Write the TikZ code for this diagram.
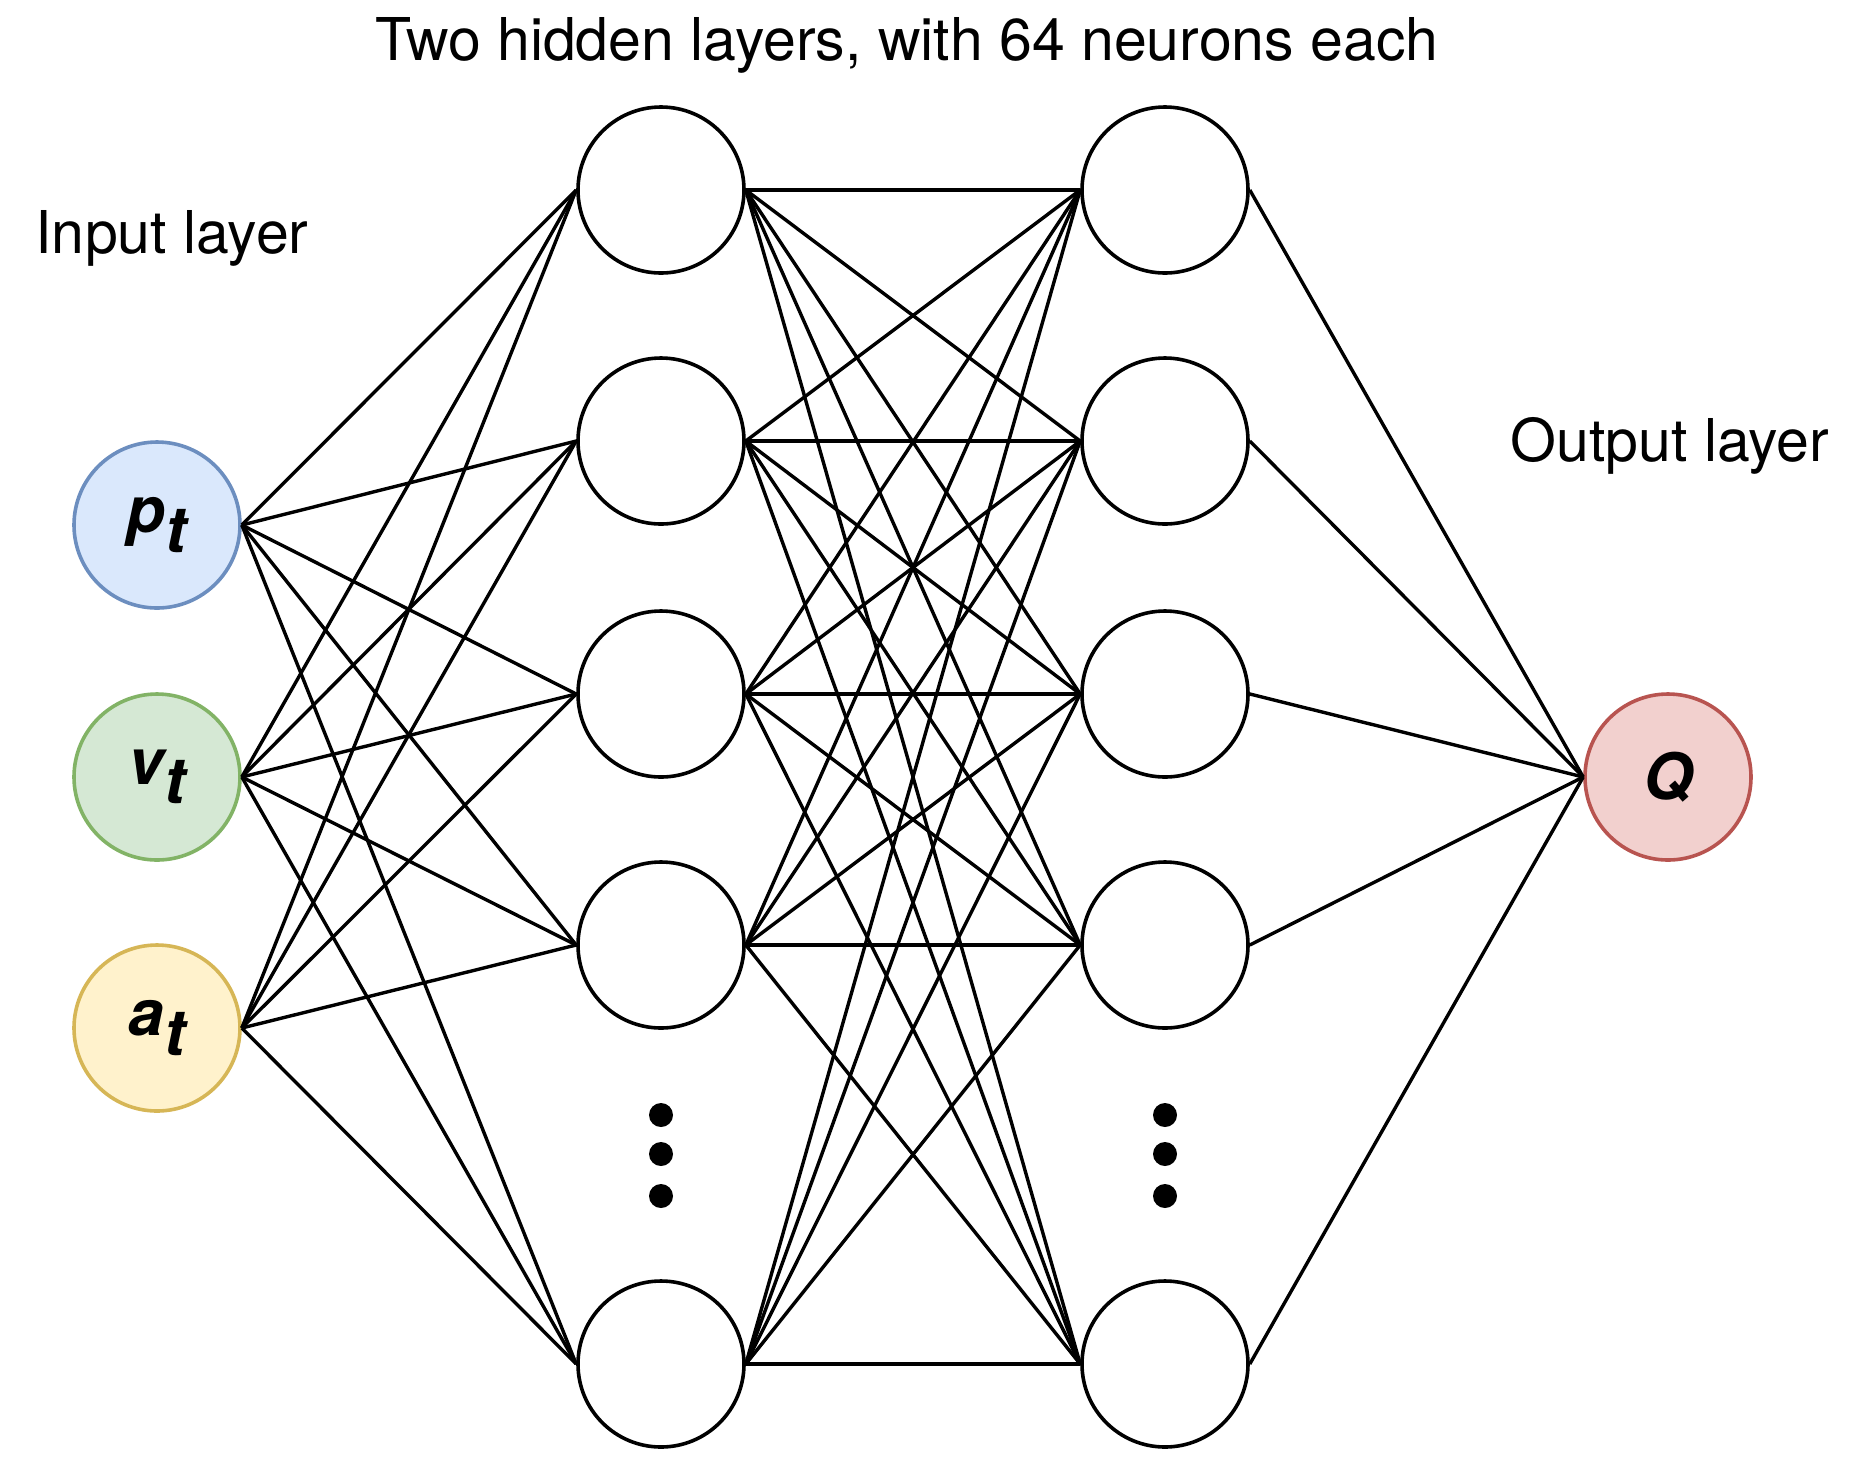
\documentclass[tikz,border=0pt]{standalone}
\usepackage{fontspec}
\setmainfont{TeX Gyre Heros}
\usepackage{tikz}
\definecolor{inblue}{HTML}{DAE8FC}
\definecolor{inbluedraw}{HTML}{6C8EBF}
\definecolor{ingreen}{HTML}{D5E8D4}
\definecolor{ingreendraw}{HTML}{82B366}
\definecolor{inyellow}{HTML}{FFF2CC}
\definecolor{inyellowdraw}{HTML}{D6B656}
\definecolor{outred}{HTML}{F2D0CE}
\definecolor{outreddraw}{HTML}{B85450}
\newcommand\sublbl[2]{\bfseries\itshape #1\raisebox{-0.3em}{#2}}
\tikzset{
  neuron/.style = {draw, circle, line width=1.8pt, minimum size=83pt, inner sep=0pt, fill=white},
  synapse/.style = {line width=1.7pt},
  vdot/.style = {circle, fill=black, minimum size=12pt, inner sep=0pt},
  caption/.style = {font=\fontsize{29.5}{34}\selectfont},
  varlbl/.style = {font=\fontsize{32}{36}\selectfont}
}
\begin{document}
\begin{tikzpicture}[x=0.5pt, y=-0.5pt]
\useasboundingbox (0,0) rectangle (1860,1464);
% input layer
\node[neuron, fill=inblue, draw=inbluedraw, varlbl](in1) at (157,525){\sublbl{p}{t}};
\node[neuron, fill=ingreen, draw=ingreendraw, varlbl](in2) at (157,777){\sublbl{v}{t}};
\node[neuron, fill=inyellow, draw=inyellowdraw, varlbl](in3) at (157,1028){\sublbl{a}{t}};
% hidden layers
\foreach \i/\y in {1/190, 2/441, 3/694, 4/945, 5/1364}{
  \node[neuron](ha\i) at (661,\y){};
  \node[neuron](hb\i) at (1165,\y){};
}
\foreach \j/\y in {1/1115, 2/1154, 3/1196}{
  \node[vdot](da\j) at (661,\y){};
  \node[vdot](db\j) at (1165,\y){};
}
% output layer
\node[neuron, fill=outred, draw=outreddraw, varlbl](out) at (1668,777){\bfseries\itshape Q};
% connections
\foreach \a in {1,2,3}
  \foreach \b in {1,...,5}
    \draw[synapse] (in\a.east) -- (ha\b.west);
\foreach \a in {1,...,5}
  \foreach \b in {1,...,5}
    \draw[synapse] (ha\a.east) -- (hb\b.west);
\foreach \a in {1,...,5}
  \draw[synapse] (hb\a.east) -- (out.west);
% captions
\node[caption](hidcap) at (907,45){Two hidden layers, with 64 neurons each};
\node[caption](incap) at (172,238){Input layer};
\node[caption](outcap) at (1670,446){Output layer};
\end{tikzpicture}
\end{document}
